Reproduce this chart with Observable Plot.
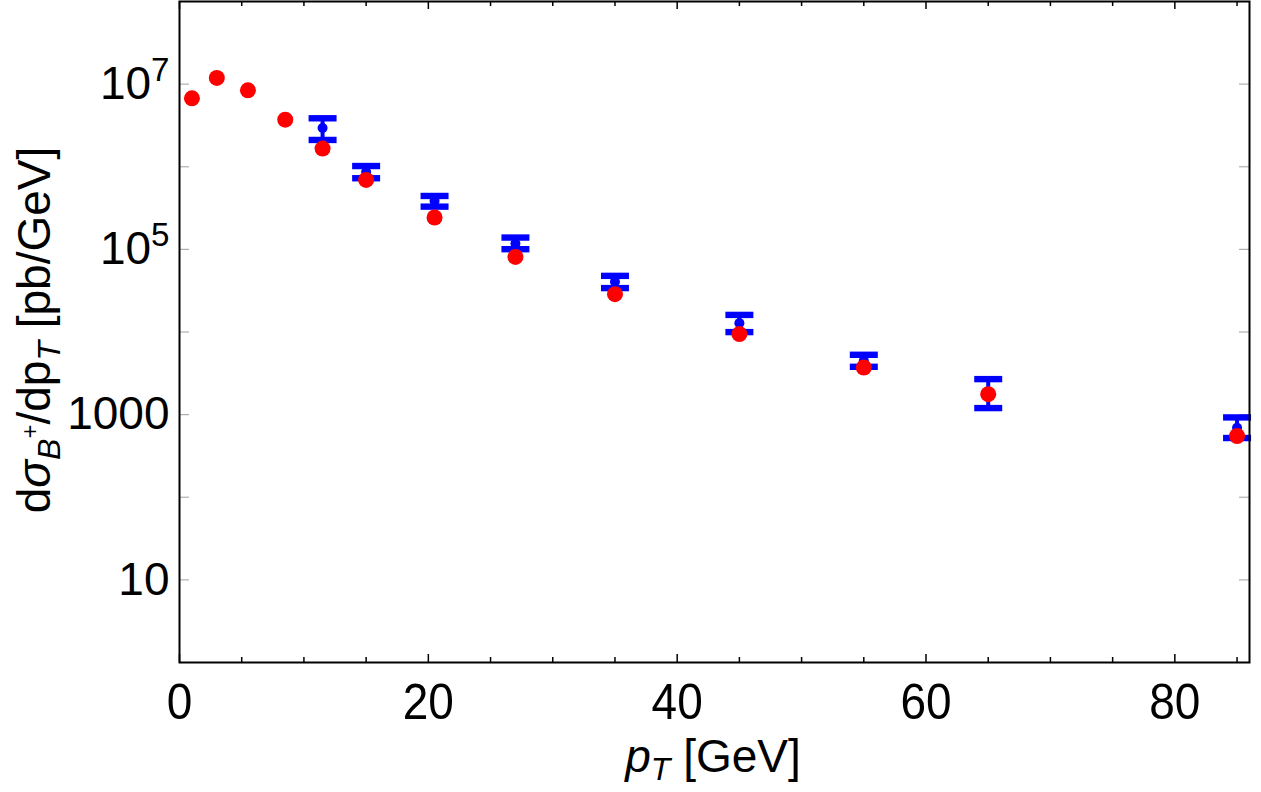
<!DOCTYPE html>
<html><head><meta charset="utf-8">
<script src="https://cdn.jsdelivr.net/npm/d3@7"></script>
<script src="https://cdn.jsdelivr.net/npm/@observablehq/plot@0.6"></script>
<style>
body{margin:0;background:#fff;}
</style>
</head><body><div id="chart"></div>
<script>
// Theory (red points)
const ptTheory = [1, 3, 5.5, 8.5, 11.5, 15, 20.5, 27, 35, 45, 55, 65, 85];
const sigmaTheory = [6.73e6, 1.19e7, 8.41e6, 3.71e6, 1.66e6, 6.92e5, 2.43e5, 8.11e4, 2.87e4, 9.44e3, 3.72e3, 1.77e3, 551];
// Measurement (blue points with error bars)
const ptData = [11.5, 15, 20.5, 27, 35, 45, 55, 65, 85];
const sigmaData = [2.94e6, 8.65e5, 3.86e5, 1.18e5, 4.05e4, 1.28e4, 4.49e3, 1.80e3, 695];
const sigmaLow = [2.11e6, 7.26e5, 3.29e5, 1.005e5, 3.40e4, 9.97e3, 3.79e3, 1.20e3, 521];
const sigmaHigh = [3.86e6, 1.02e6, 4.43e5, 1.39e5, 4.78e4, 1.61e4, 5.30e3, 2.69e3, 925];
// Ticks
const xTicksMajor = [0, 20, 40, 60, 80];
const xTicksMinor = [5, 10, 15, 25, 30, 35, 45, 50, 55, 65, 70, 75, 85];
const yTicksLabeled = [10, 1000, 1e5, 1e7];
const yTicksAll = [10, 100, 1000, 1e4, 1e5, 1e6, 1e7];

const theory = ptTheory.map((x, i) => ({x, y: sigmaTheory[i]}));
const data = ptData.map((x, i) => ({x, y: sigmaData[i], lo: sigmaLow[i], hi: sigmaHigh[i]}));

const W = 1261, H = 792;
const mL = 179, mR = 12, mT = 1, mB = 130;
const pw = W - mL - mR, ph = H - mT - mB;
const blue = "#0000ff", red = "#ff0000";
const font = "'Liberation Sans', Arial, sans-serif";
const capSymbol = {draw(ctx) { ctx.rect(-14, -3.2, 28, 6.4); }};

const chart = Plot.plot({
  width: W, height: H,
  marginLeft: mL, marginRight: mR, marginTop: mT, marginBottom: mB,
  style: {fontFamily: font, background: "white"},
  x: {domain: [0, 86]},
  y: {type: "log", domain: [1, 1e8]},
  marks: [
    // inward ticks
    Plot.tickX(xTicksMajor, {x: d => d, insetTop: ph - 8, stroke: "black", strokeWidth: 1.5}),
    Plot.tickX(xTicksMinor, {x: d => d, insetTop: ph - 5, stroke: "black", strokeWidth: 1.5}),
    Plot.tickX(xTicksMajor, {x: d => d, insetBottom: ph - 8, stroke: "black", strokeWidth: 1.5}),
    Plot.tickX(xTicksMinor, {x: d => d, insetBottom: ph - 5, stroke: "black", strokeWidth: 1.5}),
    Plot.tickY(yTicksAll, {y: d => d, insetRight: pw - 10, stroke: "#b0b0b0", strokeWidth: 1.2}),
    Plot.tickY(yTicksAll, {y: d => d, insetLeft: pw - 10, stroke: "#b0b0b0", strokeWidth: 1.2}),
    Plot.axisX({ticks: xTicksMajor, tickSize: 0, tickPadding: 21, fontSize: 46, fontFamily: font, label: null, tickFormat: d => String(d)}),
    Plot.axisY({ticks: yTicksLabeled, tickSize: 0, tickPadding: 10, fontSize: 46, fontFamily: font, label: null,
      tickFormat: d => d >= 1e5 ? "10^" + Math.round(Math.log10(d)) : String(d)}),
    // error bars
    Plot.ruleX(data, {x: "x", y1: "lo", y2: "hi", stroke: blue, strokeWidth: 4}),
    Plot.dot(data, {x: "x", y: "lo", symbol: capSymbol, fill: blue, stroke: null}),
    Plot.dot(data, {x: "x", y: "hi", symbol: capSymbol, fill: blue, stroke: null}),
    Plot.dot(data, {x: "x", y: "y", r: 5, fill: blue, stroke: null}),
    Plot.dot(theory, {x: "x", y: "y", r: 8, fill: red, stroke: null}),
    Plot.frame({stroke: "black", strokeWidth: 2})
  ]
});

const svg = d3.select(chart);
// superscript exponents on y tick labels
svg.selectAll('g[aria-label="y-axis tick label"] text').each(function() {
  const t = d3.select(this);
  const s = t.text();
  if (s.startsWith("10^")) {
    const e = s.slice(3);
    t.text("");
    t.append("tspan").text("10");
    t.append("tspan").attr("dy", "-0.55em").attr("font-size", "0.72em").text(e);
  }
});
// slight vertical stretch of x tick labels, as in the reference
svg.selectAll('g[aria-label="x-axis tick label"] text').each(function() {
  const tr = this.getAttribute("transform") || "";
  this.setAttribute("transform", tr + " scale(1,1.1)");
});

// y-axis title
const yt = svg.append("text")
  .attr("transform", "translate(50,330) rotate(-90)")
  .attr("text-anchor", "middle")
  .attr("font-family", font)
  .attr("font-size", 46)
  .attr("fill", "black");
yt.append("tspan").text("d");
yt.append("tspan").attr("font-style", "italic").text("σ");
yt.append("tspan").attr("font-style", "italic").attr("font-size", 32).attr("dy", 10).text("B");
yt.append("tspan").attr("font-size", 24).attr("dy", -22).text("+");
yt.append("tspan").attr("dy", 12).text("/dp");
yt.append("tspan").attr("font-style", "italic").attr("font-size", 32).attr("dy", 10).text("T");
yt.append("tspan").attr("dy", -10).text(" [pb/GeV]");

// x-axis title
const xt = svg.append("text")
  .attr("x", 713).attr("y", 772)
  .attr("text-anchor", "middle")
  .attr("font-family", font)
  .attr("font-size", 46)
  .attr("fill", "black");
xt.append("tspan").attr("font-style", "italic").text("p");
xt.append("tspan").attr("font-style", "italic").attr("font-size", 32).attr("dy", 8).text("T");
xt.append("tspan").attr("dy", -8).text(" [GeV]");

document.getElementById("chart").appendChild(chart);
</script>
</body></html>
